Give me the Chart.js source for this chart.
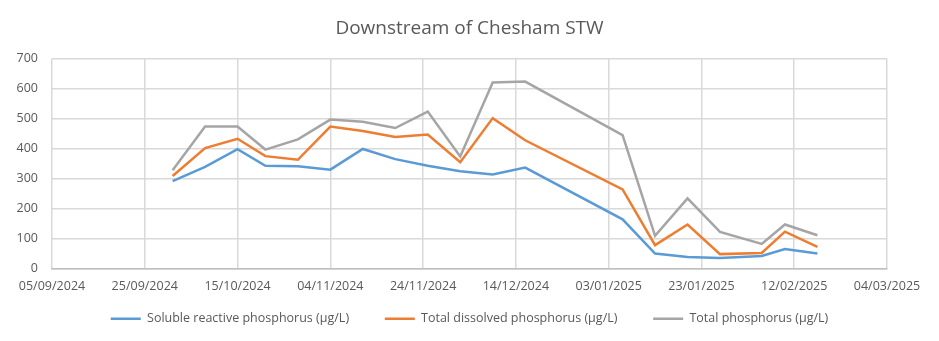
<!DOCTYPE html>
<html>
<head>
<meta charset="utf-8">
<title>Downstream of Chesham STW</title>
<script src="https://cdn.jsdelivr.net/npm/chart.js@4.4.1/dist/chart.umd.min.js"></script>
<style>
    html, body { margin: 0; padding: 0; background: #fff; }
    #wrap { width: 939px; height: 341px; position: relative; }
</style>
</head>
<body>
<div id="wrap"><canvas id="phosChart"></canvas></div>
<script>
// Sample dates and results (µg/L)
const sampleDates = [
    '2024-10-01', '2024-10-08', '2024-10-15', '2024-10-21', '2024-10-28',
    '2024-11-04', '2024-11-11', '2024-11-18', '2024-11-25', '2024-12-02',
    '2024-12-09', '2024-12-16', '2025-01-06', '2025-01-13', '2025-01-20',
    '2025-01-27', '2025-02-05', '2025-02-10', '2025-02-17'
];
const solubleReactive = [292, 339, 398, 343, 341, 330, 399, 365, 343, 325, 314, 337, 164, 50, 38, 35, 42, 65, 50];
const totalDissolved = [309, 402, 433, 375, 363, 474, 459, 439, 447, 355, 502, 428, 264, 78, 147, 48, 52, 123, 72];
const totalPhosphorus = [328, 474, 474, 397, 431, 497, 490, 469, 524, 374, 621, 624, 445, 109, 234, 122, 82, 147, 111];

const axisStart = '2024-09-05';
const axisEnd = '2025-03-04';
const tickStepDays = 20;
const yTicks = [0, 100, 200, 300, 400, 500, 600, 700];

const DAY = 86400000;
const startMs = Date.parse(axisStart + 'T00:00:00Z');

function dayOffset(iso) {
    return Math.round((Date.parse(iso + 'T00:00:00Z') - startMs) / DAY);
}

function formatDay(offset) {
    const d = new Date(startMs + offset * DAY);
    const dd = String(d.getUTCDate()).padStart(2, '0');
    const mm = String(d.getUTCMonth() + 1).padStart(2, '0');
    return `${dd}/${mm}/${d.getUTCFullYear()}`;
}

function toPoints(values) {
    return values.map((v, i) => ({x: dayOffset(sampleDates[i]), y: v}));
}

const textColor = '#595959';
const gridColor = '#d9d9d9';
const baseFont = {family: "'Open Sans', 'DejaVu Sans', sans-serif", size: 12.5};

const series = [
    {label: 'Soluble reactive phosphorus (µg/L)', values: solubleReactive, color: '#5b9bd5'},
    {label: 'Total dissolved phosphorus (µg/L)', values: totalDissolved, color: '#ed7d31'},
    {label: 'Total phosphorus (µg/L)', values: totalPhosphorus, color: '#a5a5a5'}
];

// legend padding is shared by both directions, so widen the gaps between
// entries with a little trailing space instead
function spacedLegendLabels(chart) {
    const items = Chart.defaults.plugins.legend.labels.generateLabels(chart);
    return items.map((item, i) => {
        if (i < items.length - 1) item.text += '\u2003\u2002';
        return item;
    });
}

const ctx = document.getElementById('phosChart').getContext('2d');
new Chart(ctx, {
    type: 'line',
    data: {
        datasets: series.map(s => ({
            label: s.label,
            data: toPoints(s.values),
            borderColor: s.color,
            backgroundColor: s.color,
            borderWidth: 2.5,
            pointRadius: 0,
            tension: 0,
            fill: false
        }))
    },
    options: {
        responsive: true,
        maintainAspectRatio: false,
        animation: false,
        layout: {
            padding: {left: 0, right: 0, top: 0, bottom: 6}
        },
        plugins: {
            title: {
                display: true,
                text: 'Downstream of Chesham STW',
                color: textColor,
                font: {family: baseFont.family, size: 19, weight: 'normal'},
                padding: {top: 17, bottom: 19}
            },
            legend: {
                position: 'bottom',
                labels: {
                    color: textColor,
                    font: baseFont,
                    usePointStyle: true,
                    pointStyle: 'line',
                    pointStyleWidth: 30,
                    boxHeight: 12,
                    padding: 17,
                    generateLabels: spacedLegendLabels
                }
            },
            tooltip: {enabled: false}
        },
        scales: {
            x: {
                type: 'linear',
                min: 0,
                max: dayOffset(axisEnd),
                afterFit: scale => { scale.height = 27; },
                ticks: {
                    stepSize: tickStepDays,
                    color: textColor,
                    font: baseFont,
                    padding: 10,
                    maxRotation: 0,
                    autoSkip: false,
                    callback: value => formatDay(value)
                },
                grid: {color: gridColor, lineWidth: 1.5, drawTicks: false},
                border: {display: true, color: '#bfbfbf', width: 1.5}
            },
            y: {
                min: yTicks[0],
                max: yTicks[yTicks.length - 1],
                afterFit: scale => { scale.width = 52; },
                afterBuildTicks: scale => { scale.ticks = yTicks.map(v => ({value: v})); },
                ticks: {
                    color: textColor,
                    font: baseFont,
                    padding: 14
                },
                grid: {color: gridColor, lineWidth: 1.5, drawTicks: false},
                border: {display: false}
            },
            // empty right-hand margin so the last date label has room
            yRight: {
                type: 'linear',
                position: 'right',
                afterFit: scale => { scale.width = 52; },
                ticks: {display: false},
                grid: {display: false, drawOnChartArea: false},
                border: {display: false}
            }
        }
    }
});
</script>
</body>
</html>
